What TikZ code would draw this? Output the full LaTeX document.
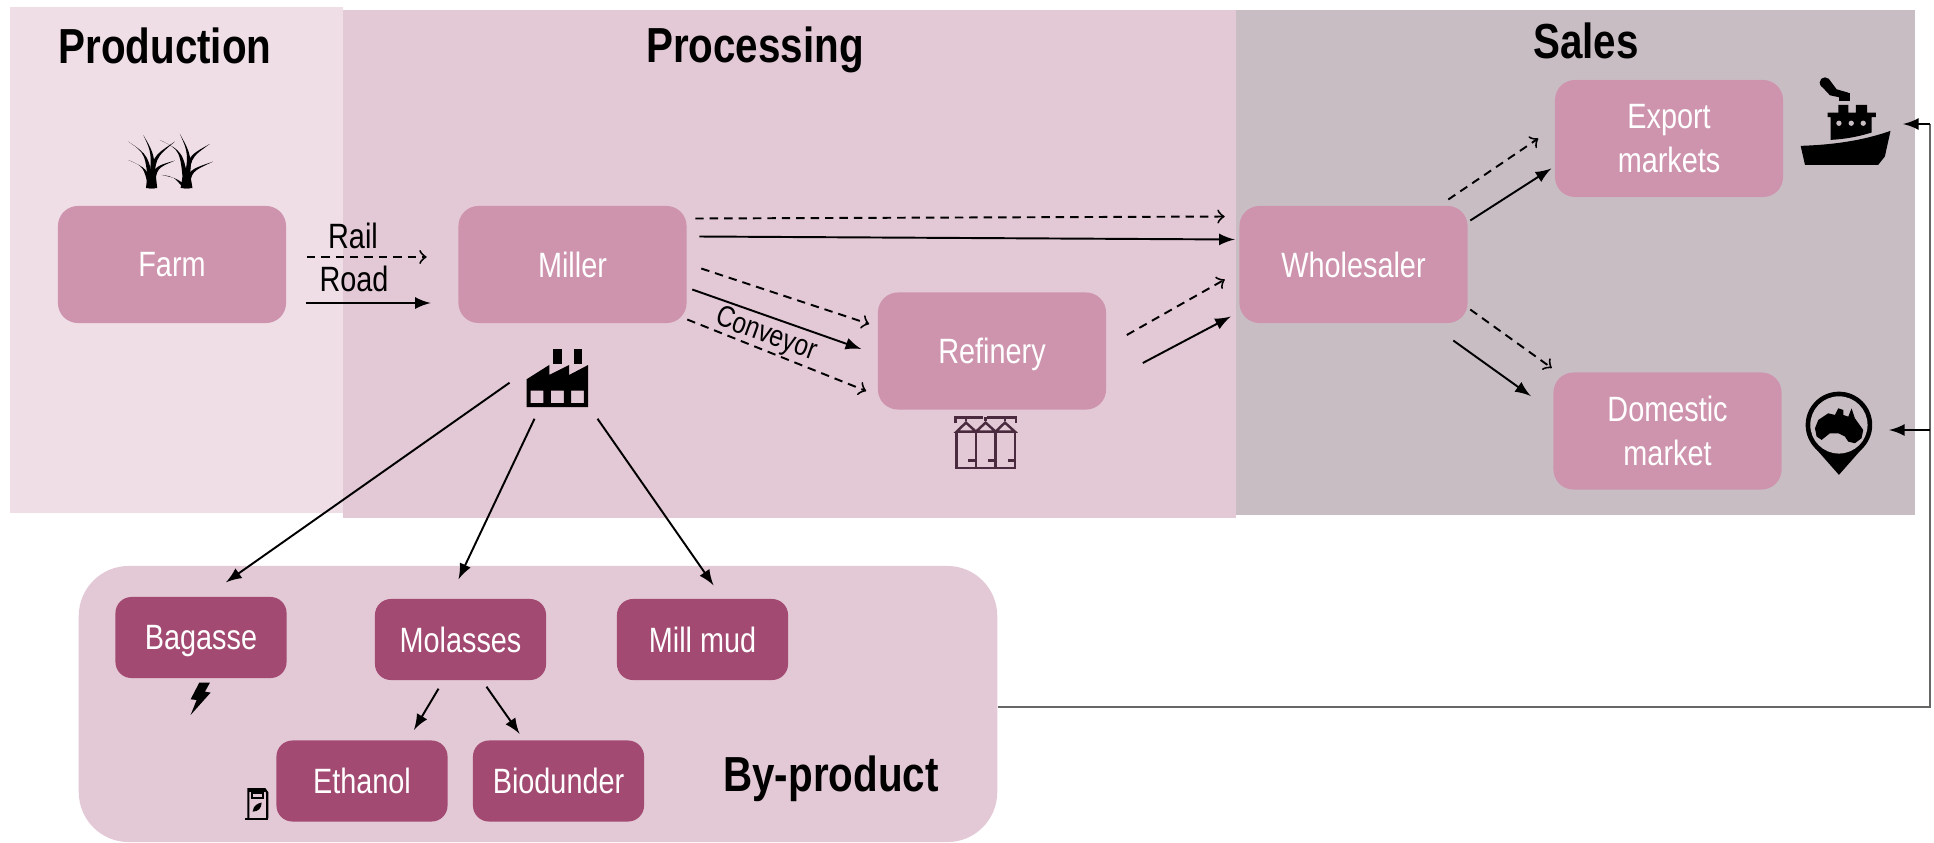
\documentclass[tikz,border=0pt]{standalone}
\usepackage{fontspec}
\setmainfont[FakeStretch=0.82]{Liberation Sans}
\usepackage{xcolor}
\usepackage{tikz}
\usetikzlibrary{arrows}
\definecolor{prodzone}{HTML}{F0DEE6}
\definecolor{proczone}{HTML}{E3C8D5}
\definecolor{saleszone}{HTML}{C9BDC4}
\definecolor{stagepink}{HTML}{CE94AE}
\definecolor{subplum}{HTML}{A34A72}
\definecolor{siloline}{HTML}{4A2A3F}
\begin{document}
\begin{tikzpicture}[x=0.01cm,y=-0.01cm,
	stage/.style={fill=stagepink,text=white,rounded corners=0.2cm,minimum width=2.28cm,minimum height=1.17cm,inner sep=0pt,align=center,font=\fontsize{10}{12.6}\selectfont},
	sub/.style={fill=subplum,text=white,rounded corners=0.16cm,minimum width=1.71cm,minimum height=0.81cm,inner sep=0pt,text depth=0pt,font=\fontsize{10}{12.6}\selectfont},
	heading/.style={font=\fontsize{14}{16}\selectfont\bfseries,inner sep=0pt},
	tag/.style={font=\fontsize{10}{12}\selectfont,inner sep=0pt},
	road/.style={-latex,line width=0.55pt},
	rail/.style={-to,line width=0.55pt,dash pattern=on 2.4pt off 1.7pt},
	crop/.style={x=0.00333cm,y=-0.00333cm}]
	\useasboundingbox (0,0) rectangle (1934,842);
	\fill[prodzone] (10,7) rectangle (343,513);
	\fill[proczone] (343,10) rectangle (1236,518);
	\fill[saleszone] (1236,10) rectangle (1915,515);
	\node[heading] (production) at (165,46) {Production};
	\node[heading] (processing) at (755,50) {Processing};
	\node[heading] (sales) at (1586,41) {Sales};
	\node[stage] (farm) at (172,264.5) {Farm};
	\node[stage] (miller) at (572.5,264.5) {Miller};
	\node[stage,text depth=0pt] (refinery) at (992,351) {Refinery};
	\node[stage] (wholesaler) at (1353.5,264.5) {Wholesaler};
	\node[stage] (export) at (1669,138.5) {Export\\markets};
	\node[stage] (domestic) at (1667.5,431) {Domestic\\market};
	\node[tag] (raillabel) at (353,236) {Rail};
	\node[tag] (roadlabel) at (354,279) {Road};
	\node[tag,rotate=-20,font=\fontsize{8.5}{10}\selectfont] (conveyor) at (766,335) {Conveyor};
	\node[fill=proczone,rounded corners=0.5cm,minimum width=9.18cm,minimum height=2.76cm,inner sep=0pt] (byproduct) at (538,704) {};
	\node[sub] (bagasse) at (201,637.5) {Bagasse};
	\node[sub] (molasses) at (460.5,639.5) {Molasses};
	\node[sub] (millmud) at (702.5,639.5) {Mill mud};
	\node[sub] (ethanol) at (362,781) {Ethanol};
	\node[sub] (biodunder) at (558.5,781) {Biodunder};
	\node[heading] (bylabel) at (831,779) {By-product};
	\draw[rail] ([shift={(20,-7.5)}]farm.east) -- ([shift={(-31,-7.5)}]miller.west);
	\draw[road] ([shift={(19,38.5)}]farm.east) -- ([shift={(-27,38.5)}]miller.west);
	\draw[rail] ([shift={(8,-46)}]miller.east) -- ([shift={(-14,-48)}]wholesaler.west);
	\draw[road] ([shift={(12,-28)}]miller.east) -- ([shift={(-4,-25)}]wholesaler.west);
	\draw[rail] ([shift={(14,4)}]miller.east) -- ([shift={(-8,-27)}]refinery.west);
	\draw[road] ([shift={(5,25)}]miller.east) -- ([shift={(-16,-2)}]refinery.west);
	\draw[rail] ([shift={(0,55)}]miller.east) -- ([shift={(-11,40)}]refinery.west);
	\draw[rail] ([shift={(20,-16)}]refinery.east) -- ([shift={(-14,15)}]wholesaler.west);
	\draw[road] ([shift={(36,12)}]refinery.east) -- ([shift={(-8,52)}]wholesaler.west);
	\draw[rail] ([shift={(-20,-65)}]wholesaler.east) -- ([shift={(-16,0)}]export.west);
	\draw[road] ([shift={(2,-44)}]wholesaler.east) -- ([shift={(-3,30)}]export.west);
	\draw[rail] ([shift={(2,45)}]wholesaler.east) -- ([shift={(-1,-63)}]domestic.west);
	\draw[road] ([shift={(-15,76)}]wholesaler.east) -- ([shift={(-22,-35)}]domestic.west);
	\draw[road] ([shift={(-63,59)}]miller.south) -- ([shift={(25,-14)}]bagasse.north);
	\draw[road] ([shift={(-38,95)}]miller.south) -- ([shift={(-2,-19)}]molasses.north);
	\draw[road] ([shift={(25,95)}]miller.south) -- ([shift={(11,-13)}]millmud.north);
	\draw[road] ([shift={(-22,8)}]molasses.south) -- ([shift={(52,-10)}]ethanol.north);
	\draw[road] ([shift={(26,6)}]molasses.south) -- ([shift={(-39,-6)}]biodunder.north);
	% return line
	\coordinate (shipend) at (1903,124);
	\coordinate (pinend) at (1889,430);
	\coordinate (linetop) at (1930,124);
	\coordinate (linemid) at (1930,430);
	\draw[line width=0.8pt,color=black!60] ([shift={(0,3)}]byproduct.east) -| (linetop);
	\draw[road] (linetop) -- (shipend);
	\draw[road] (linemid) -- (pinend);
	% grass
	\begin{scope}[shift={(110,120)},crop]
		\foreach \bx/\tx/\ty/\cx/\cy in {125/55/65/110/100,125/100/45/130/100,125/195/65/130/110,125/55/120/105/140,125/195/122/135/140,230/150/60/215/90,230/210/42/240/100,230/300/72/235/110,230/310/125/240/150,230/155/165/195/170}
			\fill (\bx-9,205) .. controls (\cx-4,\cy) .. (\tx,\ty) .. controls (\cx+5,\cy+5) .. (\bx+9,205) -- cycle;
		\fill (108,205) -- (112,170) -- (138,170) -- (142,205) -- cycle;
		\fill (212,205) -- (218,170) -- (242,170) -- (248,205) -- cycle;
	\end{scope}
	% factory
	\begin{scope}[shift={(500,330)},crop]
		\fill[even odd rule] (80,148) -- (80,232) -- (265,232) -- (265,105) -- (208,135) -- (208,105) -- (148,135) -- (148,105) -- cycle (92,182) rectangle (130,220) (153,182) rectangle (192,220) (214,182) rectangle (252,220);
		\fill (160,58) rectangle (186,102);
		\fill (222,58) rectangle (247,102);
	\end{scope}
	% ship
	\begin{scope}[shift={(1780,60)},crop]
		\fill (62,258) .. controls (150,255) and (240,245) .. (332,213) -- (315,290) -- (295,315) -- (75,315) -- cycle;
		\fill (152,240) -- (152,172) -- (143,172) -- (143,158) -- (175,158) -- (175,135) -- (205,135) -- (205,158) -- (228,158) -- (228,135) -- (262,135) -- (262,158) -- (288,158) -- (288,172) -- (275,172) -- (275,218) .. controls (230,232) and (190,238) .. cycle;
		\fill[saleszone] (177,190) circle (8) (214,190) circle (8) (250,190) circle (8);
		\fill (178,100) rectangle (210,122);
		\fill (135,68) circle (16);
		\fill (120,74) -- (146,56) -- (170,88) -- (205,98) -- (205,118) -- (150,106) -- cycle;
	\end{scope}
	% pin
	\begin{scope}[shift={(1780,380)},crop]
		\fill (177,285) -- (102,200) -- (252,200) -- cycle;
		\fill (177,135) circle (100);
		\fill[saleszone] (177,135) circle (86);
		\fill (105,145) -- (115,120) -- (145,100) -- (165,105) -- (175,85) -- (190,90) -- (190,105) -- (205,110) -- (215,85) -- (225,115) -- (250,150) -- (245,175) -- (225,190) -- (205,185) -- (195,170) -- (175,160) -- (150,160) -- (125,180) -- (110,170) -- cycle;
	\end{scope}
	% silos
	\begin{scope}[shift={(940,400)},crop,draw=siloline,line width=0.7pt]
		\draw (50,95) -- (50,205) -- (225,205) -- (225,95);
		\draw (108,95) -- (108,205) (167,95) -- (167,205);
		\draw (50,95) -- (78,68) -- (108,95) -- (137,68) -- (167,95) -- (195,68) -- (225,95) -- cycle;
		\draw (47,68) -- (47,52) -- (130,52) (142,52) -- (228,52) -- (228,68);
		\draw (78,52) -- (78,62) (137,52) -- (137,62) (195,52) -- (195,62);
		\draw (85,182) -- (108,182) (143,182) -- (167,182) (203,182) -- (225,182);
	\end{scope}
	% lightning
	\begin{scope}[shift={(170,670)},crop]
		\fill (88,38) -- (120,38) -- (105,65) -- (122,68) -- (62,135) -- (80,90) -- (62,88) -- cycle;
	\end{scope}
	% fuel pump
	\begin{scope}[shift={(230,760)},crop,line width=0.6pt]
		\draw (55,175) -- (55,88) -- (105,88) -- (112,98) -- (112,175);
		\draw (45,178) -- (115,178);
		\draw (65,98) rectangle (100,115);
		\fill (55,85) rectangle (105,95);
		\fill (68,155) .. controls (70,135) and (85,130) .. (95,128) .. controls (95,145) and (85,155) .. cycle;
	\end{scope}
\end{tikzpicture}
\end{document}
